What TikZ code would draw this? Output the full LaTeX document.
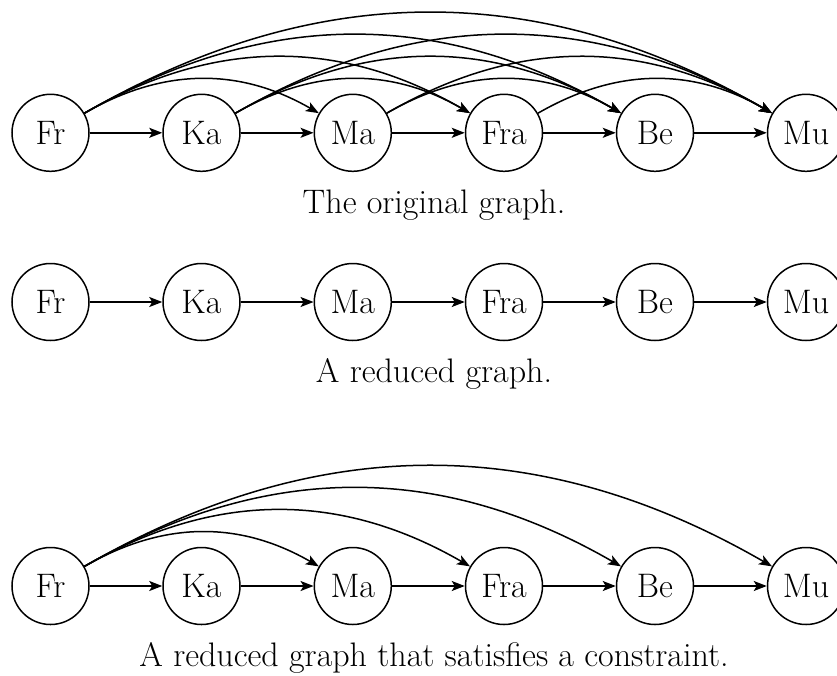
\documentclass[tikz,border=0pt]{standalone}
\usetikzlibrary{arrows.meta}
\begin{document}
\begin{tikzpicture}[x=1pt,y=-1pt,
  every node/.style={font=\fontsize{34}{40}\selectfont},
  vert/.style={draw,circle,line width=1.5pt,minimum size=77pt,inner sep=0pt},
  edge/.style={line width=1.5pt,-{Stealth[length=13pt,width=10pt,inset=3pt]}},
  captext/.style={anchor=base,inner sep=0pt}]
\useasboundingbox (0,0) rectangle (837,675);
\foreach \n/\t/\x in {a/Fr/50.5,b/Ka/201.5,c/Ma/352.8,d/Fra/504,e/Be/655,f/Mu/806}{
  \node[vert] (\n1) at (\x,132.8) {\t};
  \node[vert] (\n2) at (\x,302) {\t};
  \node[vert] (\n3) at (\x,586) {\t};
}
\foreach \r in {1,2,3}{
  \draw[edge] (a\r) -- (b\r);
  \draw[edge] (b\r) -- (c\r);
  \draw[edge] (c\r) -- (d\r);
  \draw[edge] (d\r) -- (e\r);
  \draw[edge] (e\r) -- (f\r);
}
\foreach \s/\t in {a/c,a/d,a/e,a/f,b/d,b/e,b/f,c/e,c/f,d/f}{
  \draw[edge] (\s1) to[bend left] (\t1);
}
\foreach \t in {c,d,e,f}{
  \draw[edge] (a3) to[bend left] (\t3);
}
\node[captext] (cap1) at (434,213) {The original graph.};
\node[captext] (cap2) at (434,382) {A reduced graph.};
\node[captext] (cap3) at (434,666) {A reduced graph that satisfies a constraint.};
\end{tikzpicture}
\end{document}
